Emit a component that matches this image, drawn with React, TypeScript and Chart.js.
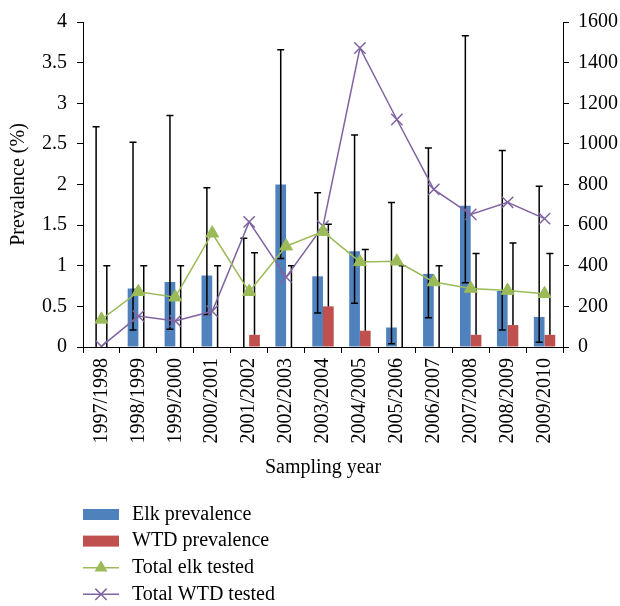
import React, { useEffect, useRef } from 'react';
import { Chart, registerables } from 'chart.js';

Chart.register(...registerables);

const categories = [
  '1997/1998', '1998/1999', '1999/2000', '2000/2001', '2001/2002', '2002/2003', '2003/2004',
  '2004/2005', '2005/2006', '2006/2007', '2007/2008', '2008/2009', '2009/2010',
];
const elkPrevalence = [0, 0.72, 0.8, 0.88, 0, 2.0, 0.87, 1.18, 0.24, 0.9, 1.74, 0.69, 0.37];
const elkErrLow = [0, 0.21, 0.22, 0.4, 0, 1.09, 0.42, 0.54, 0.04, 0.36, 0.79, 0.21, 0.06];
const elkErrHigh = [2.71, 2.52, 2.85, 1.96, 1.34, 3.66, 1.9, 2.61, 1.78, 2.45, 3.83, 2.42, 1.98];
const wtdPrevalence = [0, 0, 0, 0, 0.15, 0, 0.5, 0.2, 0, 0, 0.15, 0.27, 0.15];
const wtdErrHigh = [1.0, 1.0, 1.0, 1.0, 1.16, 1.0, 1.51, 1.2, 1.0, 1.0, 1.15, 1.28, 1.15];
const totalElkTested = [136, 272, 245, 560, 272, 496, 568, 419, 422, 320, 288, 278, 262];
const totalWtdTested = [3, 152, 128, 176, 616, 344, 595, 1472, 1120, 776, 653, 712, 632];
const leftTicksMax = 4;
const rightTicksMax = 1600;

const BLUE = '#4F81BD';
const RED = '#C0504D';
const GREEN = '#9BBB59';
const PURPLE = '#8064A2';
const FONT = "'Liberation Serif', 'Times New Roman', serif";
const FS = 20;

const errorBarPlugin = {
  id: 'errorBars',
  afterDatasetDraw(chart: any, args: any) {
    const ds: any = chart.data.datasets[args.index];
    if (!ds.errHigh) return;
    const meta = args.meta;
    const yScale = chart.scales[meta.yAxisID];
    const ctx = chart.ctx;
    ctx.save();
    ctx.strokeStyle = '#000';
    ctx.lineWidth = 1.5;
    const cap = 3.5;
    meta.data.forEach((el: any, j: number) => {
      const x = el.x;
      const lo = ds.errLow[j];
      const yl = yScale.getPixelForValue(lo);
      const yh = yScale.getPixelForValue(ds.errHigh[j]);
      ctx.beginPath();
      ctx.moveTo(x, yl);
      ctx.lineTo(x, yh);
      ctx.moveTo(x - cap, yh);
      ctx.lineTo(x + cap, yh);
      if (lo > 0 && ds.lowCap) {
        ctx.moveTo(x - cap, yl);
        ctx.lineTo(x + cap, yl);
      }
      ctx.stroke();
    });
    ctx.restore();
  },
};

const legendPlugin = {
  id: 'stackLegend',
  afterDraw(chart: any) {
    const ctx = chart.ctx;
    const top = chart.scales.x.bottom;
    const left = chart.chartArea.left;
    const w = 36;
    ctx.save();
    ctx.font = `${FS}px ${FONT}`;
    ctx.textBaseline = 'middle';
    ctx.textAlign = 'left';
    chart.data.datasets.forEach((ds: any, i: number) => {
      const y = top + 33.5 + i * 26.6;
      if (ds.type === 'line') {
        ctx.strokeStyle = ds.borderColor;
        ctx.lineWidth = 1.5;
        ctx.beginPath();
        ctx.moveTo(left, y);
        ctx.lineTo(left + w, y);
        ctx.stroke();
        const cx = left + w / 2;
        const r = ds.pointRadius;
        if (ds.pointStyle === 'triangle') {
          ctx.fillStyle = ds.backgroundColor;
          ctx.beginPath();
          for (let k = 0; k < 3; k++) {
            const a = (k * 2 * Math.PI) / 3;
            const px = cx + Math.sin(a) * r;
            const py = y - Math.cos(a) * r;
            if (k === 0) ctx.moveTo(px, py);
            else ctx.lineTo(px, py);
          }
          ctx.closePath();
          ctx.fill();
        } else {
          const d = r * Math.SQRT1_2;
          ctx.beginPath();
          ctx.moveTo(cx - d, y - d);
          ctx.lineTo(cx + d, y + d);
          ctx.moveTo(cx - d, y + d);
          ctx.lineTo(cx + d, y - d);
          ctx.stroke();
        }
      } else {
        ctx.fillStyle = ds.backgroundColor;
        ctx.fillRect(left, y - 5.5, w, 11);
      }
      ctx.fillStyle = '#000';
      ctx.fillText(ds.label, left + 49, y);
    });
    ctx.restore();
  },
};

export default function App() {
  const ref = useRef<HTMLCanvasElement | null>(null);
  useEffect(() => {
    if (!ref.current) return;
    const axisGrid = {
      display: true,
      drawOnChartArea: false,
      drawTicks: true,
      tickLength: 6,
      color: '#000',
      lineWidth: 1,
    };
    const chart = new Chart(ref.current, {
      type: 'bar',
      data: {
        labels: categories,
        datasets: [
          {
            type: 'bar',
            label: 'Elk prevalence',
            data: elkPrevalence,
            backgroundColor: BLUE,
            yAxisID: 'y',
            order: 1,
            categoryPercentage: 0.58,
            barPercentage: 1.0,
            errLow: elkErrLow,
            errHigh: elkErrHigh,
            lowCap: true,
          } as any,
          {
            type: 'bar',
            label: 'WTD prevalence',
            data: wtdPrevalence,
            backgroundColor: RED,
            yAxisID: 'y',
            order: 1,
            categoryPercentage: 0.58,
            barPercentage: 1.0,
            errLow: wtdPrevalence,
            errHigh: wtdErrHigh,
            lowCap: false,
          } as any,
          {
            type: 'line',
            label: 'Total elk tested',
            data: totalElkTested,
            borderColor: GREEN,
            backgroundColor: GREEN,
            borderWidth: 1.5,
            pointStyle: 'triangle',
            pointRadius: 7.5,
            pointBorderWidth: 1,
            yAxisID: 'y1',
            order: 0,
            tension: 0,
          } as any,
          {
            type: 'line',
            label: 'Total WTD tested',
            data: totalWtdTested,
            borderColor: PURPLE,
            backgroundColor: PURPLE,
            borderWidth: 1.5,
            pointStyle: 'crossRot',
            pointRadius: 8,
            pointBorderWidth: 1.5,
            yAxisID: 'y1',
            order: 0,
            tension: 0,
          } as any,
        ],
      },
      options: {
        animation: false,
        responsive: true,
        maintainAspectRatio: false,
        layout: { padding: { top: 13, bottom: 125, left: 0, right: 0 } },
        font: { family: FONT, size: FS },
        color: '#000',
        plugins: {
          legend: { display: false },
          tooltip: { enabled: false },
        },
        scales: {
          x: {
            offset: true,
            grid: { ...axisGrid, offset: true },
            border: { display: true, color: '#000', width: 1 },
            ticks: {
              minRotation: 90,
              maxRotation: 90,
              autoSkip: false,
              padding: 5,
              color: '#000',
              font: { family: FONT, size: FS },
            },
            title: {
              display: true,
              text: 'Sampling year',
              color: '#000',
              font: { family: FONT, size: FS },
              padding: { top: 0, bottom: 1 },
            },
            afterFit: (s: any) => {
              s.height = 134;
            },
          },
          y: {
            position: 'left',
            min: 0,
            max: leftTicksMax,
            grid: axisGrid,
            border: { display: true, color: '#000', width: 1 },
            ticks: {
              stepSize: 0.5,
              padding: 10,
              color: '#000',
              font: { family: FONT, size: FS },
              callback: (v: any) => String(v),
            },
            title: {
              display: true,
              text: 'Prevalence (%)',
              color: '#000',
              font: { family: FONT, size: FS },
              padding: { top: 7, bottom: 0 },
            },
            afterFit: (s: any) => {
              s.width = 83;
            },
          },
          y1: {
            position: 'right',
            min: 0,
            max: rightTicksMax,
            grid: axisGrid,
            border: { display: true, color: '#000', width: 1 },
            ticks: {
              stepSize: 200,
              padding: 9,
              color: '#000',
              font: { family: FONT, size: FS },
              callback: (v: any) => String(v),
            },
            afterFit: (s: any) => {
              s.width = 57;
            },
          },
        },
      } as any,
      plugins: [errorBarPlugin, legendPlugin],
    });
    return () => chart.destroy();
  }, []);
  return (
    <div style={{ position: 'absolute', left: 0, top: 0, width: 620, height: 606, background: '#fff' }}>
      <canvas ref={ref} />
    </div>
  );
}
